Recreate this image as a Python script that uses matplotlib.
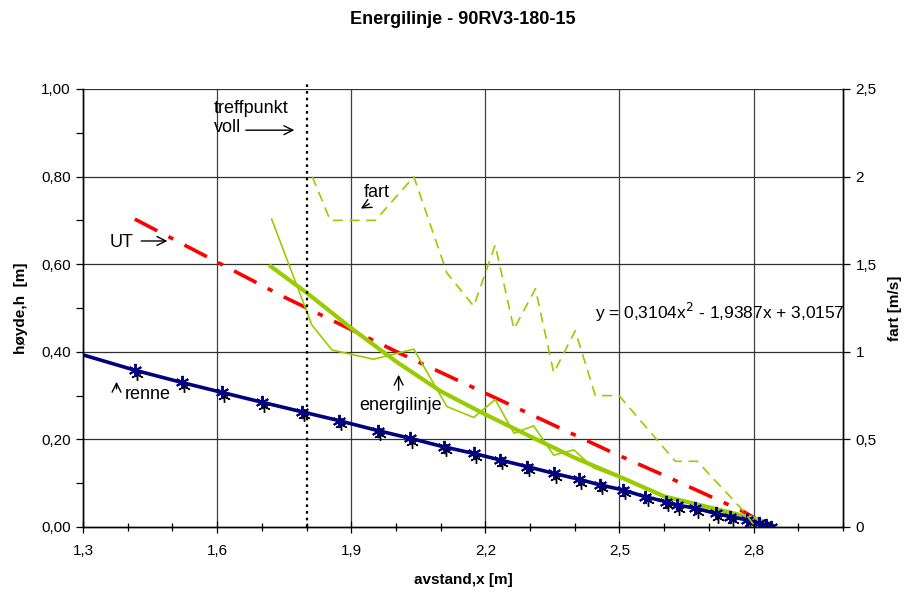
import matplotlib
matplotlib.use("Agg")
import matplotlib.pyplot as plt
from matplotlib.ticker import MultipleLocator, FuncFormatter

plt.rcParams["font.family"] = ["Liberation Sans", "DejaVu Sans"]

# renne (blue line with markers)
renne_x = [1.30, 1.416, 1.521, 1.610, 1.700, 1.790, 1.872, 1.960, 2.032, 2.107, 2.174,
           2.233, 2.293, 2.353, 2.409, 2.457, 2.508, 2.558, 2.603, 2.629, 2.670,
           2.715, 2.748, 2.786, 2.812, 2.827, 2.838]
renne_y = [0.393, 0.358, 0.330, 0.3075, 0.285, 0.263, 0.243, 0.220, 0.2025, 0.183, 0.168,
           0.153, 0.138, 0.1225, 0.109, 0.096, 0.0845, 0.069, 0.058, 0.050, 0.043,
           0.031, 0.0235, 0.016, 0.0084, 0.005, 0.001]

# measured bottom points (black asterisks)
maalt_x = [1.421, 1.526, 1.615, 1.705, 1.795, 1.877, 1.965, 2.037, 2.112, 2.179,
           2.238, 2.298, 2.358, 2.414, 2.462, 2.513, 2.563, 2.608, 2.634, 2.675,
           2.720, 2.753, 2.791, 2.817, 2.832, 2.843]
maalt_y = [0.349, 0.321, 0.299, 0.277, 0.255, 0.235, 0.212, 0.195, 0.175, 0.160,
           0.145, 0.130, 0.115, 0.101, 0.088, 0.077, 0.061, 0.050, 0.042, 0.035,
           0.023, 0.016, 0.008, 0.001, -0.002, -0.006]

# energilinje, smoothed (thick) and measured (thin)
energi_x = [1.72, 1.80, 1.90, 2.00, 2.10, 2.20, 2.30, 2.40, 2.50, 2.60, 2.70, 2.80, 2.83]
energi_y = [0.595, 0.535, 0.454, 0.378, 0.31, 0.257, 0.207, 0.158, 0.115, 0.07, 0.045, 0.02, 0.01]

energi_maalt_x = [1.722, 1.812, 1.857, 1.950, 2.040, 2.114, 2.174, 2.222, 2.264, 2.308,
                  2.353, 2.398, 2.442, 2.50, 2.60, 2.70, 2.80, 2.83]
energi_maalt_y = [0.703, 0.461, 0.404, 0.383, 0.406, 0.275, 0.250, 0.291, 0.214, 0.231,
                  0.164, 0.176, 0.135, 0.113, 0.068, 0.043, 0.018, 0.0]

# UT line
ut_x = [1.416, 1.748, 2.010, 2.222, 2.480, 2.606, 2.778, 2.820]
ut_y = [0.703, 0.526, 0.396, 0.295, 0.172, 0.115, 0.035, 0.010]

# fart (right axis)
fart_x = [1.813, 1.853, 1.954, 2.040, 2.114, 2.174, 2.222, 2.264, 2.312, 2.353,
          2.401, 2.446, 2.499, 2.625, 2.674, 2.778, 2.804]
fart_v = [2.0, 1.75, 1.75, 2.0, 1.45, 1.26, 1.61, 1.13, 1.36, 0.88,
          1.12, 0.75, 0.75, 0.375, 0.375, 0.09, 0.0]

x_ticks = [1.3, 1.6, 1.9, 2.2, 2.5, 2.8]
treffpunkt_x = 1.8

fig = plt.figure(figsize=(9.09, 5.93), dpi=100)
ax = fig.add_axes([83 / 909, 66 / 593, 760 / 909, 438 / 593])
ax2 = ax.twinx()

ax.set_xlim(1.3, 3.0)
ax.set_ylim(0, 1.0)
ax2.set_ylim(0, 2.5)

# grid
for gx in x_ticks[1:]:
    ax.axvline(gx, color="#404040", lw=0.9, zorder=0)
for gy in [0.2, 0.4, 0.6, 0.8, 1.0]:
    ax.axhline(gy, color="#303030", lw=0.9, zorder=0)

green = "#99cc00"
ax.plot(ut_x, ut_y, color="#ff0000", lw=2.6, dashes=(7, 3.5, 1.5, 3.5), zorder=3)
ax.plot(energi_maalt_x, energi_maalt_y, color=green, lw=1.2, zorder=3)
ax.plot(energi_x, energi_y, color=green, lw=3.0, zorder=4)
ax.plot(maalt_x, maalt_y, ls="none", marker=(6, 2, 0), ms=9, mec="black", mew=1.0, zorder=5)
ax.plot(renne_x, renne_y, color="#000080", lw=2.6, marker=(6, 2, 0), ms=9.5, mec="#000080",
        mew=1.4, markevery=list(range(1, len(renne_x))), zorder=6)
ax2.plot(fart_x, fart_v, color=green, lw=1.2, dashes=(6, 4), zorder=3)

ax.plot([treffpunkt_x, treffpunkt_x], [0, 1.012], color="black", lw=1.6, ls=(0, (1.2, 1.8)),
        clip_on=False, zorder=7)

# ticks
ax.set_xticks(x_ticks)
ax.xaxis.set_minor_locator(MultipleLocator(0.1))
ax.yaxis.set_major_locator(MultipleLocator(0.2))
ax.yaxis.set_minor_locator(MultipleLocator(0.1))
ax2.yaxis.set_major_locator(MultipleLocator(0.5))
ax.xaxis.set_major_formatter(FuncFormatter(lambda v, p: f"{v:.1f}".replace(".", ",")))
ax.yaxis.set_major_formatter(FuncFormatter(lambda v, p: f"{v:.2f}".replace(".", ",")))
ax2.yaxis.set_major_formatter(FuncFormatter(lambda v, p: f"{v:g}".replace(".", ",")))
ax.tick_params(axis="x", which="major", direction="inout", length=8, width=0.9, labelsize=11, pad=8)
ax.tick_params(axis="x", which="minor", direction="inout", length=6, width=0.9)
ax.tick_params(axis="y", which="major", direction="out", length=5, width=0.9, labelsize=11, pad=4)
ax.tick_params(axis="y", which="minor", direction="out", length=5, width=0.9)
ax2.tick_params(axis="y", direction="out", length=5, width=0.9, labelsize=11, pad=4)
for a in (ax, ax2):
    for s in a.spines.values():
        s.set_linewidth(1.0)
ax2.spines["top"].set_visible(False)
ax.spines["top"].set_visible(False)

ax.set_xlabel("avstand,x [m]", fontsize=11, fontweight="bold", labelpad=11)
ax.set_ylabel("høyde,h  [m]", fontsize=11, fontweight="bold", labelpad=9)
ax2.set_ylabel("fart [m/s]", fontsize=11, fontweight="bold", labelpad=8)
ax.set_title("Energilinje - 90RV3-180-15", fontsize=13, fontweight="bold", pad=47)

# annotations
fs = 13
arrow = dict(arrowstyle="->", color="black", lw=1.0, mutation_scale=16)
ax.text(1.593, 0.975, "treffpunkt\nvoll", fontsize=fs, va="top", ha="left", linespacing=1.15)
ax.annotate("", xy=(1.779, 0.906), xytext=(1.658, 0.906), arrowprops=arrow)
ax.text(1.957, 0.764, "fart", fontsize=fs, ha="center", va="center")
ax.annotate("", xy=(1.916, 0.724), xytext=(1.946, 0.741), arrowprops=arrow)
ax.text(1.387, 0.649, "UT", fontsize=fs, ha="center", va="center")
ax.annotate("", xy=(1.495, 0.653), xytext=(1.424, 0.653), arrowprops=arrow)
ax.text(1.445, 0.303, "renne", fontsize=fs, ha="center", va="center")
ax.annotate("", xy=(1.375, 0.338), xytext=(1.375, 0.309), arrowprops=arrow)
ax.text(2.010, 0.278, "energilinje", fontsize=fs, ha="center", va="center")
ax.annotate("", xy=(2.006, 0.354), xytext=(2.006, 0.306), arrowprops=arrow)
ax.text(2.446, 0.489, "y = 0,3104x$^{2}$ - 1,9387x + 3,0157", fontsize=12.5, ha="left", va="center")

fig.savefig("out.png", dpi=100)
